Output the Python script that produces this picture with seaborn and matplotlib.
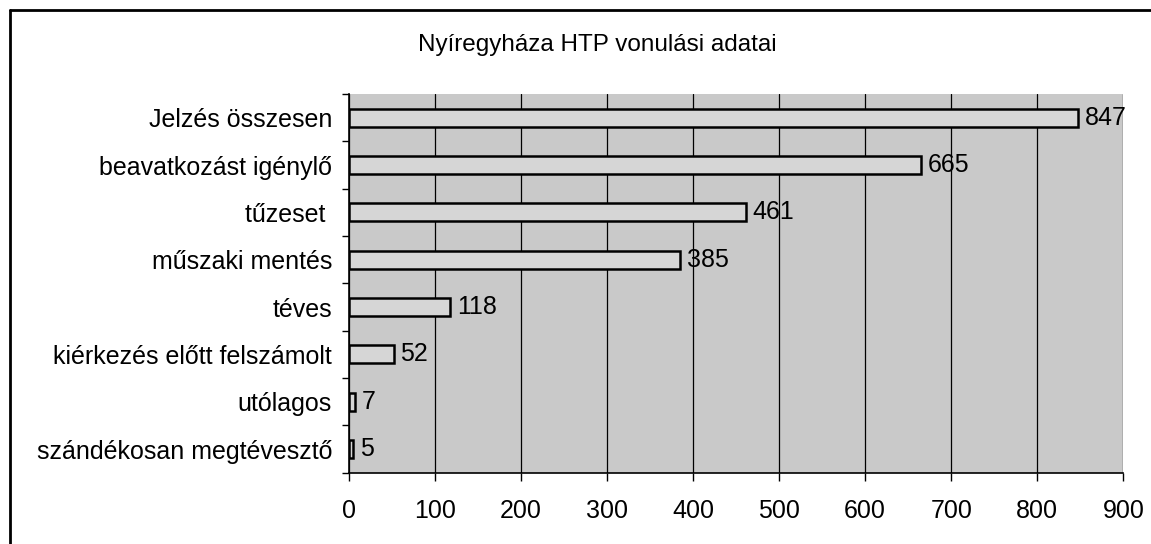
import numpy as np
import pandas as pd
import matplotlib.pyplot as plt
import seaborn as sns
from matplotlib.lines import Line2D

categories = ["Jelzés összesen", "beavatkozást igénylő", "tűzeset ", "műszaki mentés",
              "téves", "kiérkezés előtt felszámolt", "utólagos", "szándékosan megtévesztő"]
values = [847, 665, 461, 385, 118, 52, 7, 5]
title = "Nyíregyháza HTP vonulási adatai"

df = pd.DataFrame({"cat": categories, "val": values})

sns.set_style("white")
plt.rcParams['font.family'] = ['Liberation Sans', 'DejaVu Sans']
plt.rcParams['text.color'] = 'black'
plt.rcParams['xtick.color'] = 'black'
plt.rcParams['ytick.color'] = 'black'

fig = plt.figure(figsize=(11.51, 5.44), dpi=100)
ax = fig.add_axes([0.303, 0.131, 0.673, 0.696])
ax.set_facecolor("#c9c9c9")

sns.barplot(data=df, y="cat", x="val", orient="h", color="#d6d6d6",
            edgecolor="black", linewidth=1.8, width=0.38, saturation=1, ax=ax)

ax.set_xlim(0, 900)
ax.set_ylim(len(categories) - 0.5, -0.5)
ax.set_xticks(np.arange(0, 901, 100))
ax.grid(axis="x", color="black", linewidth=0.9)
ax.set_axisbelow(True)
ax.set_xlabel("")
ax.set_ylabel("")

# y ticks between categories, labels centered
ax.set_yticks(np.arange(len(categories)))
ax.set_yticklabels(categories)
ax.set_yticks(np.arange(-0.5, len(categories), 1), minor=True)
ax.tick_params(axis="y", which="major", length=0, pad=12, labelsize=18)
ax.tick_params(axis="y", which="minor", length=5, color="black", width=1, direction="out", left=True)
ax.tick_params(axis="x", length=6, color="black", width=1, direction="out", bottom=True,
               pad=13, labelsize=18)

for s in ["top", "right"]:
    ax.spines[s].set_visible(False)
for s in ["left", "bottom"]:
    ax.spines[s].set_color("black")
    ax.spines[s].set_linewidth(1.2)

for i, v in enumerate(values):
    ax.text(v + 8, i, str(v), va="center", ha="left", fontsize=18)

fig.text(0.519, 0.917, title, ha="center", va="center", fontsize=17.5)
# outer frame: only top and left edges fall inside the image
fig.lines.append(Line2D([0.009, 0.009], [0.0, 0.982], transform=fig.transFigure,
                        color="black", linewidth=2))
fig.lines.append(Line2D([0.009, 1.0], [0.982, 0.982], transform=fig.transFigure,
                        color="black", linewidth=2))

fig.savefig("out.png", dpi=100)
